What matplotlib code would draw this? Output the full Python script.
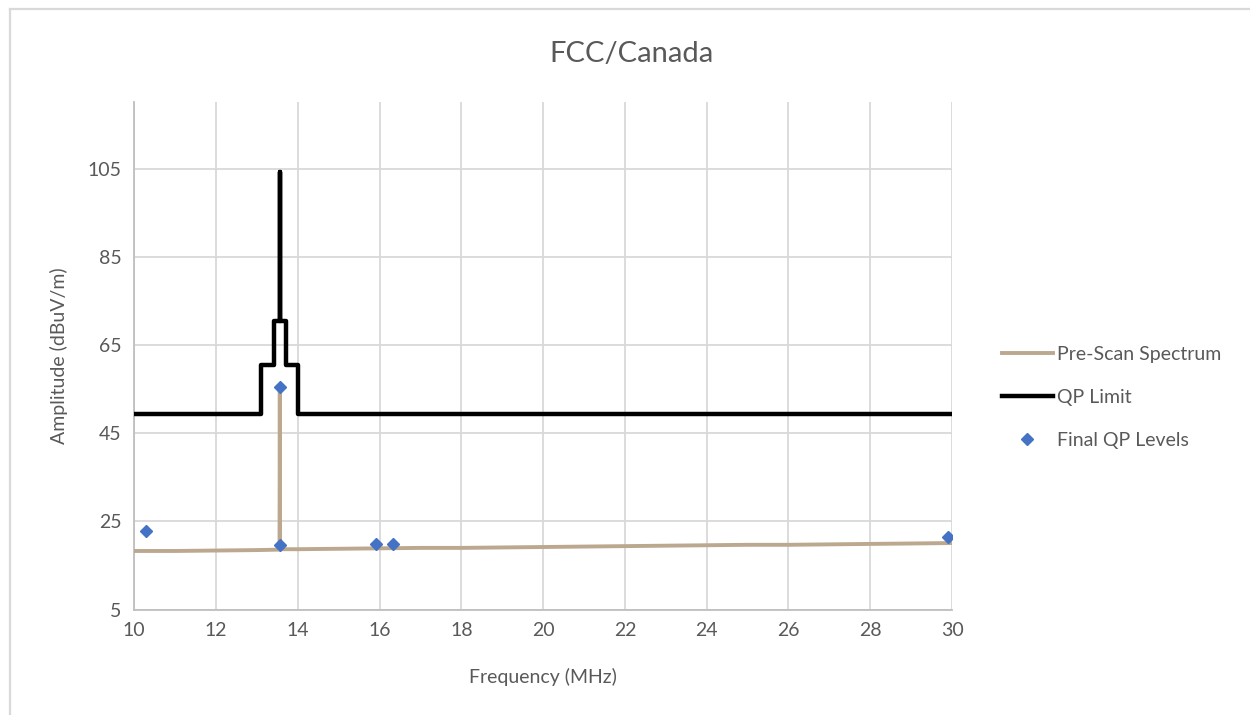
import matplotlib
matplotlib.use("Agg")
import matplotlib.pyplot as plt
from matplotlib.lines import Line2D

plt.rcParams['font.family'] = ['Lato', 'DejaVu Sans']

# pre-scan spectrum (MHz, dBuV/m)
scan_freq = [10.0, 11.0, 12.0, 13.0, 13.5, 13.55, 13.553, 13.56, 13.567, 13.57, 14.0,
             15.0, 16.0, 17.0, 18.0, 19.0, 20.0, 21.0, 22.0, 23.0, 24.0, 25.0,
             26.0, 27.0, 28.0, 29.0, 30.0]
scan_level = [18.3, 18.3, 18.4, 18.5, 18.6, 18.6, 19.6, 55.5, 19.6, 18.7, 18.7,
              18.8, 18.9, 19.0, 19.0, 19.1, 19.2, 19.3, 19.4, 19.5, 19.6, 19.7,
              19.7, 19.8, 19.9, 20.0, 20.1]

# QP limit (step shape)
limit_freq = [10.0, 13.11, 13.11, 13.41, 13.41, 13.553, 13.553, 13.56, 13.567, 13.567,
              13.71, 13.71, 14.01, 14.01, 30.0]
limit_level = [49.5, 49.5, 60.5, 60.5, 70.5, 70.5, 104.3, 104.3, 104.3, 70.5,
               70.5, 60.5, 60.5, 49.5, 49.5]

# final quasi-peak measurements
qp_freq = [10.29, 13.56, 13.56, 15.91, 16.32, 29.9]
qp_level = [22.8, 55.6, 19.6, 19.9, 19.9, 21.5]

text_col = '#595959'
grid_col = '#d9d9d9'

fig = plt.figure(figsize=(12.5, 7.15), dpi=100)
ax = fig.add_axes([0.1074, 0.1475, 0.6542, 0.7095])

ax.plot(scan_freq, scan_level, color='#bba88f', lw=2.8, label='Pre-Scan Spectrum', zorder=3)
ax.plot(limit_freq, limit_level, color='black', lw=3.2, label='QP Limit', zorder=4)
ax.plot(qp_freq, qp_level, ls='none', marker='D', ms=6.5, color='#4472c4',
        label='Final QP Levels', zorder=5)

ax.set_xlim(10, 30)
ax.set_ylim(5, 120.2)
ax.set_xticks(range(10, 31, 2))
ax.set_yticks(range(5, 106, 20))
ax.grid(True, color=grid_col, lw=1.3)
ax.set_axisbelow(True)
for s in ['top', 'right']:
    ax.spines[s].set_visible(False)
for s in ['left', 'bottom']:
    ax.spines[s].set_color('#bfbfbf')
    ax.spines[s].set_linewidth(1.3)
ax.tick_params(length=0, labelsize=14, labelcolor=text_col, pad=9)

ax.set_xlabel('Frequency (MHz)', fontsize=14, color=text_col, labelpad=21)
ax.set_ylabel('Amplitude (dBuV/m)', fontsize=14, color=text_col, labelpad=14)
fig.text(0.505, 0.925, 'FCC/Canada', ha='center', va='center', fontsize=21, color=text_col)

leg = ax.legend(loc='center left', bbox_to_anchor=(1.04, 0.418), frameon=False,
                fontsize=14, labelcolor=text_col, handlelength=2.6, handletextpad=0.2,
                labelspacing=1.34)

# chart border (only top and left edges fall inside the picture)
fig.add_artist(Line2D([0.0076, 0.0076], [0.0, 0.9875], color=grid_col, lw=1.6))
fig.add_artist(Line2D([0.0076, 1.0], [0.9875, 0.9875], color=grid_col, lw=1.6))

fig.savefig('out.png', dpi=100)
